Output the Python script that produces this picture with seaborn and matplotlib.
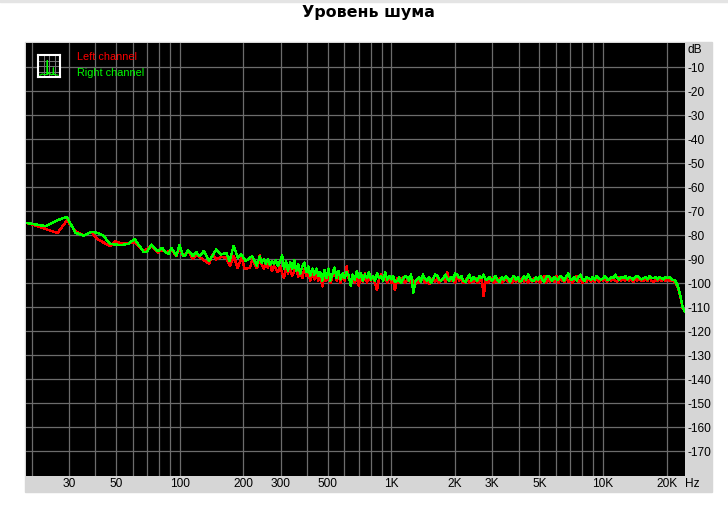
import matplotlib
matplotlib.use("Agg")
import matplotlib.pyplot as plt
import matplotlib.patches as patches
import pandas as pd
import seaborn as sns

# Noise level, left / right channel
# =================================
title = "Уровень шума"
x_ticks = [30, 50, 100, 200, 300, 500, 1000, 2000, 3000, 5000, 10000, 20000]
x_labels = ["30", "50", "100", "200", "300", "500", "1K", "2K", "3K", "5K", "10K", "20K"]
x_grid = [20, 40, 60, 70, 80, 90, 400, 600, 700, 800, 900, 4000, 6000, 7000, 8000, 9000]
y_ticks = [-10, -20, -30, -40, -50, -60, -70, -80, -90, -100, -110, -120, -130, -140, -150, -160, -170]

# low end, read separately for each channel
left_low_f = [19, 21.8, 26.5, 29.3, 32.2, 35.2, 38.2, 40.7, 47, 49.8, 53, 57, 61.3, 67.6, 73.5, 79, 82.5, 86.5, 91.4,
              96.4, 100, 104, 109.5, 115.6, 120, 129, 137.6, 143, 149, 157, 166, 173, 180, 188, 196, 203, 215, 220, 231]
left_low = [-75, -76.6, -79.2, -73.9, -78.4, -80.2, -78.7, -81.6, -84.7, -82.6, -83.5, -83.3, -83, -86.7, -84.7, -87.4,
            -86, -87.4, -86, -88.8, -85.4, -88.8, -86.7, -89.9, -88.1, -90.2, -92, -88.1, -90.2, -89.1, -89.5, -93,
            -88.8, -93.7, -89.5, -94.1, -93.7, -90.2, -93.7]
right_low_f = [19, 23.4, 26.6, 29.3, 32.2, 35.2, 38.2, 41.1, 43.4, 47, 53, 57, 61.3, 67.6, 70, 73.5, 79, 82.5, 86.5,
               88.7, 91.4, 96.4, 100, 104, 106.4, 109.5, 115.6, 120, 124, 130, 137.6, 149, 157, 166, 172, 180, 188,
               196, 205, 220, 231]
right_low = [-75, -76.3, -73.8, -72.4, -79.1, -80.2, -78.7, -79.1, -80.2, -83.7, -84.2, -83.7, -81.7, -87, -87, -84,
             -86.7, -85.3, -87.4, -87.8, -85.3, -88.6, -84.2, -88.8, -88.6, -86.3, -88.8, -87.2, -88.8, -86.7, -90.9,
             -86, -88.1, -87.4, -90.9, -84.5, -89.4, -88.1, -90.9, -88.8, -92.7]

# rest of the band, both channels on the same frequencies
freq = [234, 239, 244, 250, 255, 261, 267, 273, 279, 285, 291, 298, 305, 311, 318, 325, 333, 340, 348, 355,
        363, 371, 380, 388, 397, 405, 414, 424, 433, 443, 452, 462, 473, 483, 494, 505, 516, 528, 539, 551,
        563, 576, 589, 602, 615, 629, 643, 657, 672, 687, 702, 718, 734, 750, 767, 784, 801, 819, 837, 856,
        875, 895, 915, 935, 956, 978,
        1000, 1020, 1040, 1070, 1090, 1110, 1140, 1160, 1190, 1210, 1240, 1270, 1300, 1320, 1350, 1380, 1410, 1440, 1480, 1510,
        1540, 1580, 1610, 1650, 1680, 1720, 1760, 1800, 1840, 1880, 1920, 1960, 2000, 2050, 2090, 2140, 2190, 2240, 2290, 2340,
        2390, 2440, 2500, 2550, 2610, 2670, 2730, 2790, 2850, 2910, 2980, 3050, 3110, 3180, 3250, 3330, 3400, 3480, 3550, 3630,
        3710, 3800, 3880, 3970, 4050, 4140, 4240, 4330, 4430, 4520, 4620, 4730, 4830, 4940, 5050, 5160, 5280, 5390, 5510, 5630,
        5760, 5890, 6020, 6150, 6290, 6430, 6570, 6720, 6870, 7020, 7180, 7340, 7500, 7670, 7840, 8010, 8190, 8370, 8560, 8750,
        8950, 9150, 9350, 9560, 9780,
        10000, 10220, 10450, 10680, 10920, 11160, 11410, 11660, 11920, 12190, 12460, 12740, 13020, 13310, 13600, 13910, 14220, 14530, 14860, 15190,
        15530, 15870, 16220, 16580, 16950, 17330, 17720, 18110, 18510, 18920, 19340, 19770, 20210, 20660, 21120, 21900, 22600, 23300, 23800, 24400]

right_mid = [-91, -89, -91.5, -90, -92, -90, -92.5, -91, -92, -90.5, -93, -91, -88.5, -94, -91, -95, -91.5, -94, -90.5, -95,
             -92, -96, -93, -91.5, -95.5, -93, -97, -94, -96.5, -94, -97, -95.5, -99, -94.5, -98, -94, -99, -96, -93.5, -98,
             -95, -98.5, -96, -98, -95.5, -97, -101, -96.5, -98.5, -95, -98, -96, -99, -96.5, -98, -95.5, -98.5, -97, -99, -96,
             -98, -97, -99, -95.5, -98.5, -97]
left_mid = [-93, -88.5, -92, -94, -91, -93.5, -92, -95, -93, -94, -95.5, -93, -96, -98, -93, -96, -94, -97, -95, -93,
            -97.5, -95, -98, -94, -97, -95, -99, -96, -98.5, -96, -99, -97, -101.5, -96, -99, -96, -100, -97, -95, -99,
            -97, -100, -96, -99, -93, -98, -99, -97, -100, -97, -101, -97, -99.5, -96, -100, -96.5, -99, -97, -100, -103,
            -98, -96.5, -99, -97, -100, -97]

right_k = [-98.5, -97, -99.5, -99, -97.5, -100, -98, -97, -97.5, -99,
           -96.5, -104, -99, -98.5, -97.5, -99.5, -96.5, -98, -99, -97.5,
           -100, -98, -96.5, -97, -98.5, -99, -98, -96.5, -98.5, -99,
           -97.5, -99, -96, -96.5, -98, -97, -99, -99.5, -98, -96.5,
           -99, -97.5, -98.5, -99, -97, -98, -96.5, -98.5, -98.5, -97.5,
           -99, -98, -97, -99, -99.5, -97.5, -98.5, -97, -98, -99.5,
           -98, -97, -98.5, -97.5, -99.5, -99, -97, -98.5, -96.5, -98,
           -99, -99, -97.5, -98.5, -97, -98.5, -99.5, -97.5, -97, -98,
           -99, -97.5, -98.5, -98.5, -97, -98, -99, -97, -96, -98.5,
           -98.5, -97.5, -99, -97.5, -96.5, -98.5, -99, -97.5, -98, -98.5,
           -97.5, -98.5, -97, -98, -98.5]
left_k = [-100, -99, -103, -98, -100, -99, -97.5, -100, -98.5, -98, -100, -99, -100.5, -98.5, -100, -99, -97, -100, -99, -100.5,
          -99, -98, -99.5, -98, -100, -99, -98, -99.5, -95.5, -99, -99, -98, -100, -97.5, -99, -98.5, -100, -99, -98, -100,
          -99, -99.5, -98, -100, -99, -97.5, -105.5, -99, -100, -99, -98, -100, -98.5, -99.5, -98, -100, -99, -98, -99.5, -98.5,
          -100, -98, -99.5, -98.5, -100, -98, -99.5, -98.5, -100, -98.5, -99.5, -98, -99.5, -98.5, -100, -98, -97, -100, -98.5, -99.5,
          -98, -99.5, -97, -100, -98, -99, -99.5, -98, -99.5, -98.5, -100, -98.5, -97, -99.5, -98.5, -100, -98.5, -99.5, -98, -99.5,
          -98.5, -99.5, -97, -99.5, -98.5]

right_high = [-98, -97, -98.5, -98.5, -97.5, -98, -96.5, -98, -98.5, -97.5,
              -98, -97, -98.5, -97.5, -98, -98.5, -97.5, -97, -98, -98.5,
              -98, -97.5, -98.5, -97, -98, -98, -97.5, -98.5, -97.5, -98,
              -98.5, -97.5, -98, -97.5, -98.5, -99, -101.4, -106, -110.3, -112]
left_high = [-99, -98, -99.5, -98.5, -99, -98, -99, -99.5, -97.5, -99, -98.5, -99, -98, -99, -98.5, -99.5, -98.5, -99, -98, -99,
             -99, -98.5, -99, -98, -99, -99.5, -98.5, -99, -98.5, -99, -98.5, -99, -98.5, -99, -99, -99.5, -102, -106.5, -110.5, -112]

# little analyzer icon in the corner
icon_x = [0.08, 0.2, 0.3, 0.4, 0.42, 0.44, 0.5, 0.6, 0.68, 0.7, 0.72, 0.8, 0.92]
icon_y = [0.08, 0.14, 0.1, 0.12, 0.75, 0.12, 0.2, 0.1, 0.12, 0.42, 0.12, 0.1, 0.08]

left_f = left_low_f + freq
right_f = right_low_f + freq
left_db = left_low + left_mid + left_k + left_high
right_db = right_low + right_mid + right_k + right_high

df = pd.concat([
    pd.DataFrame({"freq": left_f, "level": left_db, "channel": "Left channel"}),
    pd.DataFrame({"freq": right_f, "level": right_db, "channel": "Right channel"}),
])

W, H = 728, 512
sns.set_style("white")
plt.rcParams["font.family"] = ["Liberation Sans", "DejaVu Sans"]
plt.rcParams["text.color"] = "black"

fig = plt.figure(figsize=(W / 100, H / 100), dpi=100, facecolor="white")


def frame(x0, y0, x1, y1):
    # pixel box (top-left origin) to figure fractions
    return [x0 / W, 1 - y1 / H, (x1 - x0) / W, (y1 - y0) / H]


fig.add_artist(patches.Rectangle((0, 1 - 2 / H), 1, 2 / H, transform=fig.transFigure, color="#e4e4e4", zorder=-2))
x0, y0, w, h = frame(25, 42, 712, 492)
fig.add_artist(patches.Rectangle((x0, y0), w, h, transform=fig.transFigure, color="#d6d6d6", zorder=-2))

ax = fig.add_axes(frame(26, 43, 685, 476), facecolor="black")
sns.lineplot(data=df, x="freq", y="level", hue="channel", palette={"Left channel": "#ff0000", "Right channel": "#00ff00"},
             estimator=None, sort=False, linewidth=1.0, antialiased=False, legend=False, ax=ax, zorder=3)

ax.set_xscale("log")
ax.set_xlim(18.8, 24400)
ax.set_ylim(-180.4, 0)
ax.set_xticks(x_ticks)
ax.set_xticklabels(x_labels)
ax.set_xticks(x_grid, minor=True)
ax.set_xticklabels([], minor=True)
ax.set_yticks(y_ticks)
ax.set_yticklabels([str(t) for t in y_ticks])
ax.yaxis.tick_right()
ax.grid(True, which="both", color="#6c6c6c", linewidth=0.9)
ax.set_axisbelow(True)
ax.tick_params(which="both", length=0)
ax.tick_params(axis="x", pad=1.5, labelsize=8.6, colors="black")
ax.tick_params(axis="y", pad=1.5, labelsize=8.6, colors="black")
ax.set_xlabel("")
ax.set_ylabel("")
for s in ax.spines.values():
    s.set_visible(False)

fig.text(368 / W, 1 - 12 / H, title, ha="center", va="center", fontsize=11.4, fontweight="bold", family="DejaVu Sans", color="black")
fig.text(687 / W, 1 - 50 / H, "dB", ha="left", va="center", fontsize=8.6)
fig.text(685 / W, 1 - 484 / H, "Hz", ha="left", va="center", fontsize=8.6)
fig.text(77 / W, 1 - 57 / H, "Left channel", ha="left", va="center", fontsize=7.8, color="#ff0000")
fig.text(77 / W, 1 - 73 / H, "Right channel", ha="left", va="center", fontsize=7.8, color="#00ff00")

icon = fig.add_axes(frame(38, 55, 60, 77), facecolor="black")
icon.plot(icon_x, icon_y, color="#00ff00", linewidth=0.8)
icon.set_xlim(0, 1)
icon.set_ylim(0, 1)
icon.set_xticks([0.25, 0.5, 0.75])
icon.set_yticks([0.25, 0.5, 0.75])
icon.set_xticklabels([])
icon.set_yticklabels([])
icon.grid(True, color="#777777", linewidth=0.7)
icon.tick_params(length=0)
for s in icon.spines.values():
    s.set_visible(True)
    s.set_color("white")
    s.set_linewidth(1.5)

fig.savefig("out.png", dpi=100, facecolor="white")
